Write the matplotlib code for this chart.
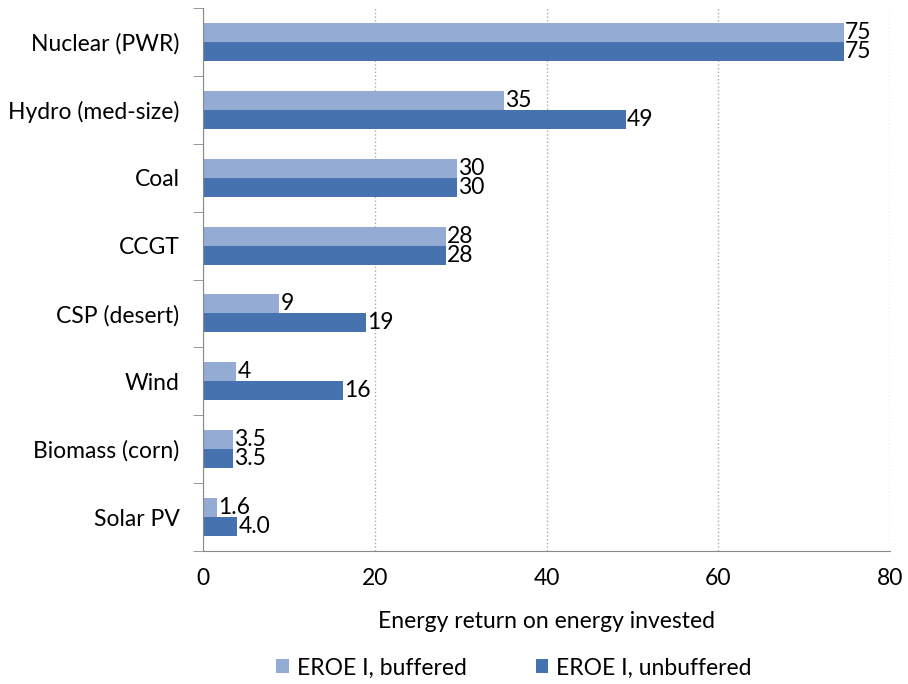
import matplotlib
matplotlib.use("Agg")
import matplotlib.pyplot as plt
import numpy as np

categories = ['Nuclear (PWR)', 'Hydro (med-size)', 'Coal', 'CCGT',
              'CSP (desert)', 'Wind', 'Biomass (corn)', 'Solar PV']
buffered = [74.6, 35.0, 29.6, 28.3, 8.9, 3.9, 3.5, 1.6]
unbuffered = [74.6, 49.2, 29.6, 28.3, 19.0, 16.3, 3.5, 4.0]
buffered_labels = ['75', '35', '30', '28', '9', '4', '3.5', '1.6']
unbuffered_labels = ['75', '49', '30', '28', '19', '16', '3.5', '4.0']
xticks = [0, 20, 40, 60, 80]

light = '#94ABD3'
dark = '#4673B0'
fs = 16.5
plt.rcParams['font.family'] = ['Lato', 'DejaVu Sans']

fig = plt.figure(figsize=(9.08, 6.84), dpi=100)
ax = fig.add_axes([203 / 908, 1 - 551 / 684, 687 / 908, 543 / 684])

y = np.arange(len(categories))
h = 0.28
ax.barh(y - h / 2, buffered, height=h, color=light, label='EROE I, buffered', zorder=3)
ax.barh(y + h / 2, unbuffered, height=h, color=dark, label='EROE I, unbuffered', zorder=3)

for i in range(len(categories)):
    ax.text(buffered[i] + 0.15, y[i] - h / 2, buffered_labels[i], va='center', ha='left',
            fontsize=fs, color='black', zorder=4)
    ax.text(unbuffered[i] + 0.15, y[i] + h / 2, unbuffered_labels[i], va='center', ha='left',
            fontsize=fs, color='black', zorder=4)

ax.set_xlim(0, 80)
ax.set_ylim(len(categories) - 0.5, -0.5)
ax.set_xticks(xticks)
ax.set_xticklabels([str(t) for t in xticks], fontsize=fs)
ax.set_yticks(y)
ax.set_yticklabels(categories, fontsize=fs)
ax.tick_params(axis='y', length=0, pad=17)
ax.set_yticks(np.arange(-0.5, len(categories)), minor=True)
ax.tick_params(axis='y', which='minor', length=7, color='#888888', direction='out')
ax.tick_params(axis='x', length=0, pad=12)
ax.xaxis.grid(True, linestyle=':', color='#aaaaaa', linewidth=1, zorder=0)

for s in ['top', 'right']:
    ax.spines[s].set_visible(False)
for s in ['left', 'bottom']:
    ax.spines[s].set_color('#888888')
ax.spines['left'].set_zorder(5)

ax.set_xlabel('Energy return on energy invested', fontsize=fs, labelpad=16)

handles, labels = ax.get_legend_handles_labels()
fig.legend(handles, labels, loc='center', bbox_to_anchor=(514 / 908, 1 - 668 / 684), ncol=2,
           frameon=False, fontsize=fs, handlelength=0.55, handleheight=0.55,
           columnspacing=3.0, handletextpad=0.35, borderpad=0)

fig.savefig('out.png', dpi=100)
